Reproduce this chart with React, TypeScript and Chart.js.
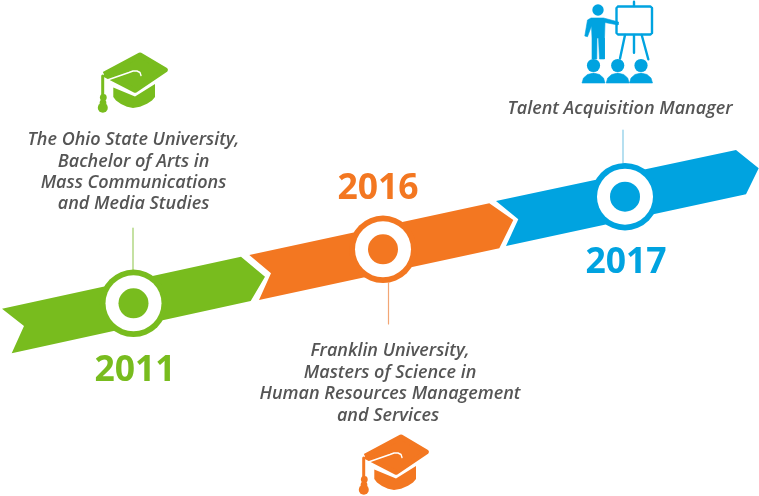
import React, { useEffect, useRef } from "react";
import { Chart, registerables } from "chart.js";

Chart.register(...registerables);

const W = 759;
const H = 496;
const FONT = '"Open Sans"';

const years = ["2011", "2016", "2017"];
const colors = ["#78bc1e", "#f37721", "#00a3e0"];
const stemColors = ["#9fce66", "#f2a675", "#86cbe6"];

type P = [number, number];

const ribbonGreen: P[] = [[2, 308.7], [241, 256.7], [265, 276.7], [250.7, 301], [11.7, 353.3], [24, 326], [2, 308.7]];
const ribbonOrange: P[] = [[249.3, 255], [489.3, 203.3], [513.3, 220], [499.3, 248.3], [259, 300], [271, 273.3], [249.3, 255]];
const ribbonBlue: P[] = [[496, 201], [736, 150], [758.7, 168.3], [746, 194.3], [506, 246], [518.3, 219.3], [496, 201]];
const ribbons = [ribbonGreen, ribbonOrange, ribbonBlue];

const nodeX = [133.5, 383, 625];
const nodeY = [303.3, 249.3, 196.7];
const stemTop: P[] = [[133, 228], [388.5, 283], [623, 130]];
const stemEnd: P[] = [[133, 272], [388.5, 324], [623, 165]];

const yearX = [135, 378, 626];
const yearY = [371, 188.5, 263];

const greenText = ["The Ohio State University,", "Bachelor of Arts in", "Mass Communications", "and Media Studies"];
const orangeText = ["Franklin University,", "Masters of Science in", "Human Resources Management", "and Services"];
const blueText = ["Talent Acquisition Manager"];
const textBlocks = [
  { lines: greenText, x: [133.5, 133.5, 133.5, 133.5], y: [140, 161.5, 183, 204] },
  { lines: orangeText, x: [390, 390, 390, 388], y: [351, 373, 394, 416] },
  { lines: blueText, x: [620], y: [109] },
];

const capTop: P[] = [[104, 74.3], [140, 55], [165.3, 70], [135, 90.3], [104, 74.3]];
const capBase: P[] = [[113.3, 87.5], [113.3, 97], [116, 100.5], [121, 104], [127, 106.8], [133, 108], [140, 106.8], [147, 103.8], [152, 100.5], [155, 97], [155, 84], [135, 96.5], [113.3, 87.5]];
const capBand: P[] = [[106, 80.5], [129, 72.5], [133, 71], [137, 71], [140, 72.5], [141, 75.5]];
const capCord: P[] = [[102.7, 76], [102.7, 95]];
const capBead: P[] = [[103.3, 97.5]];
const capNeck: P[] = [[103, 103]];
const capDrop: P[] = [[102.8, 107.8]];
const capOffset: P[] = [[0, 0], [261, 382]];

const personHead: P[] = [[598, 10]];
const personBody: P[] = [[587.5, 20], [591, 18], [603.5, 18], [618.5, 22], [618, 25], [605, 22.5], [604.5, 38], [604.5, 59], [599.5, 59], [598.5, 38], [597, 38], [596.8, 59], [592.7, 59], [592, 38], [591.5, 26], [587.5, 36.7], [584.8, 36], [587.5, 20]];
const boardFrame: P[] = [[618, 6.5], [650.5, 6.5], [652, 8], [652, 33], [650.5, 34.5], [618, 34.5], [616.5, 33], [616.5, 8], [618, 6.5]];
const boardParts: P[][] = [
  [[634, 1.7], [634, 6]],
  [[625, 35], [620, 58.5]],
  [[634, 35], [634, 52.7]],
  [[641.7, 35], [648.3, 59.3]],
];
const audienceX = [593.5, 617.7, 641];
const audienceHeadY = 65.5;
const bust: P[] = [[-11.5, 83], [-10, 78], [-6, 74.5], [0, 73], [6, 74.5], [10, 78], [11.5, 83], [-11.5, 83]];

const at = (pts: P[], o: P = [0, 0]) => pts.map(([x, y]) => ({ x: x + o[0], y: y + o[1] }));

function shape(pts: P[], color: string, borderWidth = 0, offset: P = [0, 0]) {
  return {
    type: "scatter" as const,
    data: at(pts, offset),
    showLine: true,
    fill: "shape",
    backgroundColor: color,
    borderColor: color,
    borderWidth,
    borderJoinStyle: "round" as const,
    pointRadius: 0,
    tension: 0,
  };
}

function stroke(pts: P[], color: string, borderWidth: number, offset: P = [0, 0]) {
  return {
    type: "scatter" as const,
    data: at(pts, offset),
    showLine: true,
    fill: false,
    borderColor: color,
    borderWidth,
    borderJoinStyle: "round" as const,
    borderCapStyle: "round" as const,
    pointRadius: 0,
    tension: 0,
  };
}

function dots(pts: P[], color: string, radius: number, offset: P = [0, 0]) {
  return {
    type: "scatter" as const,
    data: at(pts, offset),
    showLine: false,
    backgroundColor: color,
    borderWidth: 0,
    pointRadius: radius,
    pointHoverRadius: radius,
    pointStyle: "circle" as const,
  };
}

function buildDatasets() {
  const out: any[] = [];
  ribbons.forEach((r, i) => {
    out.push(stroke([stemTop[i], stemEnd[i]], stemColors[i], 1.2));
    out.push(shape(r, colors[i]));
    const n: P[] = [[nodeX[i], nodeY[i]]];
    out.push(dots(n, colors[i], 33.7));
    out.push(dots(n, "#ffffff", 28));
    out.push(dots(n, colors[i], 15));
  });
  capOffset.forEach((o, i) => {
    const c = colors[i];
    out.push(shape(capTop, c, 5, o));
    out.push(shape(capBase, c, 0, o));
    out.push(stroke(capBand, "#ffffff", 1.4, o));
    out.push(stroke(capCord, c, 3, o));
    out.push(dots(capBead, c, 3.4, o));
    out.push(dots(capNeck, c, 3.4, o));
    out.push(dots(capDrop, c, 5, o));
  });
  const b = colors[2];
  out.push(dots(personHead, b, 5.7));
  out.push(shape(personBody, b, 0.6));
  out.push(stroke(boardFrame, b, 2.4));
  boardParts.forEach((p) => out.push(stroke(p, b, 2.4)));
  audienceX.forEach((x) => {
    out.push(shape(bust, b, 0.6, [x, 0]));
    out.push(dots([[x, audienceHeadY]], b, 6.6));
  });
  out.forEach((d, i) => {
    d.order = out.length - i;
    d.clip = false;
  });
  return out;
}

const labelPlugin = {
  id: "timelineLabels",
  afterDatasetsDraw(chart: any) {
    const { ctx, scales } = chart;
    const sx = scales.x;
    const sy = scales.y;
    ctx.save();
    ctx.textAlign = "center";
    ctx.textBaseline = "middle";
    ctx.fillStyle = "#555555";
    ctx.font = `italic 600 18px ${FONT}`;
    textBlocks.forEach((t) =>
      t.lines.forEach((line, i) => {
        ctx.fillText(line, sx.getPixelForValue(t.x[i]), sy.getPixelForValue(t.y[i]));
      })
    );
    ctx.font = `700 35.5px ${FONT}`;
    years.forEach((yr, i) => {
      ctx.fillStyle = colors[i];
      ctx.fillText(yr, sx.getPixelForValue(yearX[i]), sy.getPixelForValue(yearY[i]));
    });
    ctx.restore();
  },
};

export default function App() {
  const ref = useRef<HTMLCanvasElement | null>(null);
  useEffect(() => {
    if (!ref.current) return;
    const chart = new Chart(ref.current, {
      type: "scatter",
      data: { datasets: buildDatasets() },
      options: {
        animation: false,
        responsive: false,
        devicePixelRatio: 1,
        layout: { padding: 0, autoPadding: false },
        plugins: { legend: { display: false }, tooltip: { enabled: false } },
        events: [],
        scales: {
          x: { type: "linear", min: 0, max: W, display: false },
          y: { type: "linear", min: 0, max: H, reverse: true, display: false },
        },
      },
      plugins: [labelPlugin],
    } as any);
    return () => chart.destroy();
  }, []);
  return (
    <div style={{ position: "absolute", left: 0, top: 0, width: W, height: H, background: "#fff" }}>
      <canvas ref={ref} width={W} height={H} style={{ display: "block" }} />
    </div>
  );
}
